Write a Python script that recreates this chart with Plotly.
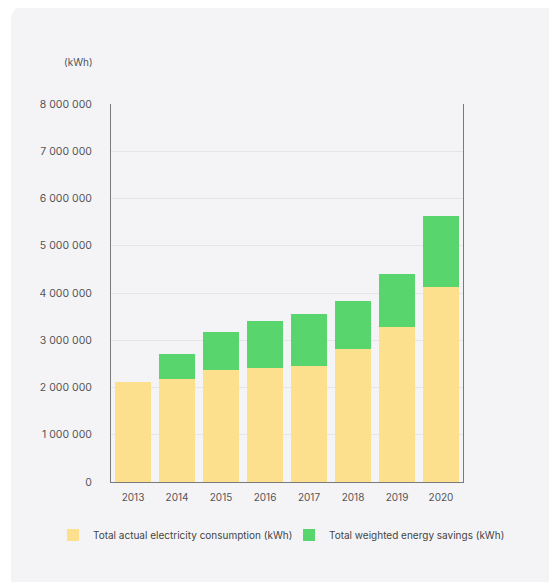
import plotly.graph_objects as go

years = ["2013", "2014", "2015", "2016", "2017", "2018", "2019", "2020"]
consumption = [2120000, 2180000, 2370000, 2420000, 2460000, 2810000, 3270000, 4130000]
savings = [0, 520000, 800000, 980000, 1090000, 1030000, 1140000, 1500000]
y_ticks = [0, 1000000, 2000000, 3000000, 4000000, 5000000, 6000000, 7000000, 8000000]

OFF = 8  # browser default body margin
W, H = 557 - OFF, 582 - OFF
L, R, T, B = 111 - OFF, 463 - OFF, 104 - OFF, 482 - OFF
pw, ph = R - L, B - T


def px(x):
    return (x - OFF - L) / pw


def py(y):
    return (B - (y - OFF)) / ph


fig = go.Figure()
fig.add_trace(go.Bar(x=years, y=consumption, name="Total actual electricity consumption (kWh)",
                     marker=dict(color="#FDE08D", line=dict(width=0)), legend="legend"))
fig.add_trace(go.Bar(x=years, y=savings, name="Total weighted energy savings (kWh)",
                     marker=dict(color="#59D56E", line=dict(width=0)), legend="legend2"))

# card background with rounded corners
x0, y0, x1, y1, r = 11, 5, 700, 700, 16
path = (f"M {px(x0)} {py(y0 + r)} Q {px(x0)} {py(y0)} {px(x0 + r)} {py(y0)} "
        f"L {px(x1)} {py(y0)} L {px(x1)} {py(y1)} L {px(x0)} {py(y1)} Z")
fig.add_shape(type="path", path=path, xref="paper", yref="paper",
              fillcolor="#F4F4F7", line=dict(width=0), layer="below")

fig.add_annotation(text="(kWh)", xref="paper", yref="paper", x=px(95), y=py(62),
                   xanchor="right", yanchor="middle", showarrow=False,
                   font=dict(size=10, color="#555"))

leg_common = dict(orientation="h", xanchor="left", yanchor="middle",
                  font=dict(size=10, color="#444"), bgcolor="rgba(0,0,0,0)",
                  itemwidth=30, borderwidth=0)
fig.update_layout(
    width=W, height=H,
    margin=dict(l=L, r=W - R, t=T, b=H - B, pad=0),
    barmode="stack", bargap=0.2,
    paper_bgcolor="white", plot_bgcolor="rgba(0,0,0,0)",
    font=dict(family="Inter, sans-serif", color="#555", size=11),
    separators=". ",
    showlegend=True,
    legend=dict(x=px(53), y=py(535), **leg_common),
    legend2=dict(x=px(289), y=py(535), **leg_common),
)
fig.update_xaxes(showline=True, linecolor="#7a7a7a", linewidth=1, showgrid=False,
                 ticks="", tickfont=dict(size=10, color="#555"), ticklabelstandoff=6,
                 mirror=False)
fig.update_yaxes(range=[0, 8000000], tickvals=y_ticks, tickformat=",d",
                 showline=True, linecolor="#7a7a7a", linewidth=1, mirror=True,
                 showgrid=True, gridcolor="#E4E4EA", gridwidth=1, zeroline=False,
                 ticks="", ticklabelstandoff=16, tickfont=dict(size=10.5, color="#555"))

fig.write_html("out.html")
